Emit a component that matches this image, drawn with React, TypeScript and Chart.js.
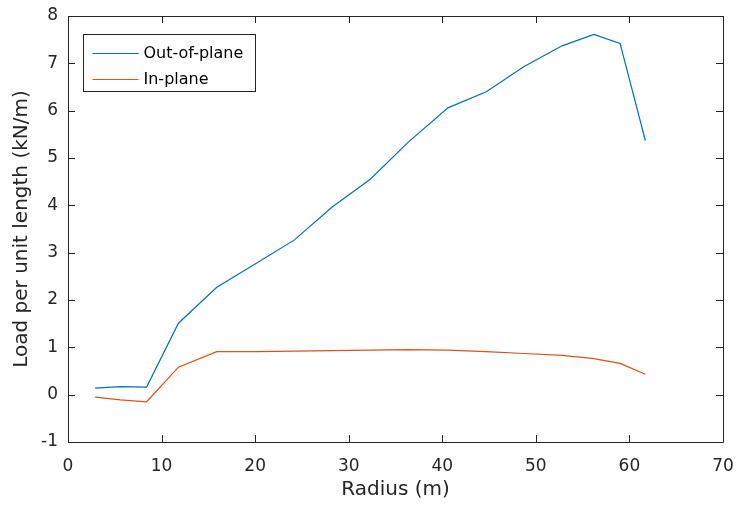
import React, { useEffect, useRef } from "react";
import { Chart, registerables, Plugin } from "chart.js";

Chart.register(...registerables);

// Radial stations along the blade (m)
const radius = [2.9, 5.6, 8.4, 11.8, 15.9, 20.0, 24.2, 28.2, 32.3, 36.4, 40.6, 44.7, 48.7, 52.8, 56.2, 59.0, 61.7];
// Distributed load per unit length (kN/m)
const outOfPlane = [0.14, 0.17, 0.16, 1.51, 2.27, 2.76, 3.27, 3.96, 4.55, 5.34, 6.06, 6.4, 6.93, 7.37, 7.61, 7.42, 5.37];
const inPlane = [-0.05, -0.11, -0.15, 0.58, 0.91, 0.91, 0.92, 0.93, 0.94, 0.95, 0.94, 0.91, 0.87, 0.83, 0.76, 0.66, 0.43];

const seriesLabels = ["Out-of-plane", "In-plane"];
const seriesColors = ["#0072BD", "#D95319"];

const xTicks = [0, 10, 20, 30, 40, 50, 60, 70];
const yTicks = [-1, 0, 1, 2, 3, 4, 5, 6, 7, 8];

const AXIS_COLOR = "#262626";
const FONT = "'DejaVu Sans', sans-serif";

// Box around the axes with inward tick marks on all four sides, plus a boxed legend
const axesBoxPlugin: Plugin = {
  id: "axesBox",
  afterDraw(chart) {
    const ctx = chart.ctx;
    const { left, right, top, bottom } = chart.chartArea;
    const xs = chart.scales.x;
    const ys = chart.scales.y;
    const tl = 7;
    ctx.save();
    ctx.strokeStyle = AXIS_COLOR;
    ctx.lineWidth = 1;
    ctx.beginPath();
    ctx.rect(Math.round(left) + 0.5, Math.round(top) + 0.5, Math.round(right - left), Math.round(bottom - top));
    ctx.stroke();
    ctx.beginPath();
    for (const v of xTicks) {
      const px = Math.round(xs.getPixelForValue(v)) + 0.5;
      ctx.moveTo(px, bottom);
      ctx.lineTo(px, bottom - tl);
      ctx.moveTo(px, top);
      ctx.lineTo(px, top + tl);
    }
    for (const v of yTicks) {
      const py = Math.round(ys.getPixelForValue(v)) + 0.5;
      ctx.moveTo(left, py);
      ctx.lineTo(left + tl, py);
      ctx.moveTo(right, py);
      ctx.lineTo(right - tl, py);
    }
    ctx.stroke();

    // legend
    const lx = Math.round(left + 15) + 0.5;
    const ly = Math.round(top + 18) + 0.5;
    const lw = 172;
    const lh = 57;
    ctx.fillStyle = "#ffffff";
    ctx.fillRect(lx, ly, lw, lh);
    ctx.strokeStyle = AXIS_COLOR;
    ctx.strokeRect(lx, ly, lw, lh);
    ctx.font = `16px ${FONT}`;
    ctx.textBaseline = "middle";
    ctx.textAlign = "left";
    seriesLabels.forEach((label, i) => {
      const rowY = Math.round(ly + 18 + i * 26) + 0.5;
      ctx.strokeStyle = seriesColors[i];
      ctx.beginPath();
      ctx.moveTo(lx + 9, rowY);
      ctx.lineTo(lx + 55, rowY);
      ctx.stroke();
      ctx.fillStyle = "#000000";
      ctx.fillText(label, lx + 60, rowY);
    });
    ctx.restore();
  },
};

export default function App() {
  const canvasRef = useRef<HTMLCanvasElement | null>(null);

  useEffect(() => {
    const canvas = canvasRef.current;
    if (!canvas) return;
    const seriesValues = [outOfPlane, inPlane];
    const chart = new Chart(canvas, {
      type: "line",
      data: {
        datasets: seriesValues.map((vals, i) => ({
          label: seriesLabels[i],
          data: radius.map((r, j) => ({ x: r, y: vals[j] })),
          borderColor: seriesColors[i],
          backgroundColor: seriesColors[i],
          borderWidth: 1.2,
          pointRadius: 0,
          tension: 0,
          fill: false,
        })),
      },
      options: {
        responsive: false,
        animation: false,
        devicePixelRatio: 1,
        layout: { padding: { top: 16, right: 13, left: 0, bottom: 0 } },
        plugins: {
          legend: { display: false },
          tooltip: { enabled: false },
        },
        scales: {
          x: {
            type: "linear",
            min: 0,
            max: 70,
            afterBuildTicks: (scale) => {
              scale.ticks = xTicks.map((v) => ({ value: v }));
            },
            afterFit: (scale: any) => {
              scale.height = 64;
              scale.paddingLeft = 0;
              scale.paddingRight = 0;
            },
            grid: { display: false, drawTicks: false },
            border: { display: false },
            ticks: {
              color: AXIS_COLOR,
              font: { family: FONT, size: 17 },
              padding: 14,
              maxRotation: 0,
              autoSkip: false,
            },
            title: {
              display: true,
              text: "Radius (m)",
              color: AXIS_COLOR,
              font: { family: FONT, size: 20 },
              padding: { top: 0, bottom: 4 },
            },
          },
          y: {
            type: "linear",
            min: -1,
            max: 8,
            afterBuildTicks: (scale) => {
              scale.ticks = yTicks.map((v) => ({ value: v }));
            },
            afterFit: (scale: any) => {
              scale.width = 68;
              scale.paddingTop = 0;
              scale.paddingBottom = 0;
            },
            grid: { display: false, drawTicks: false },
            border: { display: false },
            ticks: {
              color: AXIS_COLOR,
              font: { family: FONT, size: 17 },
              padding: 10,
              autoSkip: false,
            },
            title: {
              display: true,
              text: "Load per unit length (kN/m)",
              color: AXIS_COLOR,
              font: { family: FONT, size: 20 },
              padding: { top: 10, bottom: 0 },
            },
          },
        },
      },
      plugins: [axesBoxPlugin],
    });
    return () => chart.destroy();
  }, []);

  return (
    <div style={{ position: "fixed", left: 0, top: 0, width: 736, height: 506, background: "#ffffff" }}>
      <canvas ref={canvasRef} width={736} height={506} style={{ display: "block" }} />
    </div>
  );
}
